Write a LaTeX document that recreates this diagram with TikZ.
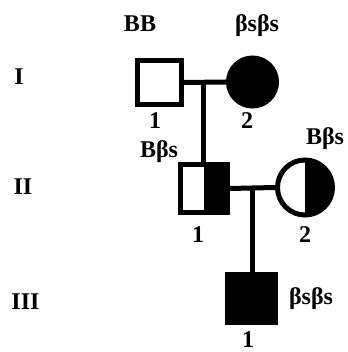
\documentclass[tikz,border=0pt]{standalone}
\usepackage{fontspec}
\setmainfont{Liberation Serif}
\begin{document}
\begin{tikzpicture}[x=1pt,y=-1pt,
  lbl/.style={font=\fontsize{24}{28}\selectfont\bfseries, inner sep=0pt, anchor=base},
  male/.style={draw, rectangle, line width=5pt, minimum size=44pt, inner sep=0pt},
  female/.style={draw, circle, line width=5pt, minimum size=48pt, inner sep=0pt},
  halfright/.style={path picture={\fill[black] (path picture bounding box.north) rectangle (path picture bounding box.south east);}},
  conn/.style={line width=5pt}]
\useasboundingbox (0,0) rectangle (347,352);
% generation I
\node[male] (i1) at (159.5,82.5) {};
\node[female, fill=black] (i2) at (252.5,82) {};
% generation II
\node[male, minimum size=47pt, halfright] (ii1) at (203.5,188.5) {};
\node[female, minimum size=55pt, halfright] (ii2) at (305,187.5) {};
% generation III
\node[male, fill=black, minimum size=48pt] (iii1) at (251,298.5) {};
% connectors
\draw[conn] (i1.east) -- (i2.west);
\coordinate (m1) at (203,82);
\draw[conn] (m1) -- (m1 |- ii1.north);
\draw[conn] (ii1.east) -- (ii2.west);
\coordinate (m2) at (252,188);
\draw[conn] (m2) -- (m2 |- iii1.north);
% generation labels
\node[lbl] (gI) at (19,85) {I};
\node[lbl] (gII) at (23,194) {II};
\node[lbl] (gIII) at (25.5,309) {III};
% genotypes
\node[lbl] (t1) at (140,32) {BB};
\node[lbl] (t2) at (257,32) {βsβs};
\node[lbl] (t3) at (159,158) {Bβs};
\node[lbl] (t4) at (325,145) {Bβs};
\node[lbl] (t5) at (311,304) {βsβs};
% numbers
\node[lbl] (n1) at (155,129) {1};
\node[lbl] (n2) at (247,129) {2};
\node[lbl] (n3) at (198,242) {1};
\node[lbl] (n4) at (305,242) {2};
\node[lbl] (n5) at (248,347) {1};
\end{tikzpicture}
\end{document}
